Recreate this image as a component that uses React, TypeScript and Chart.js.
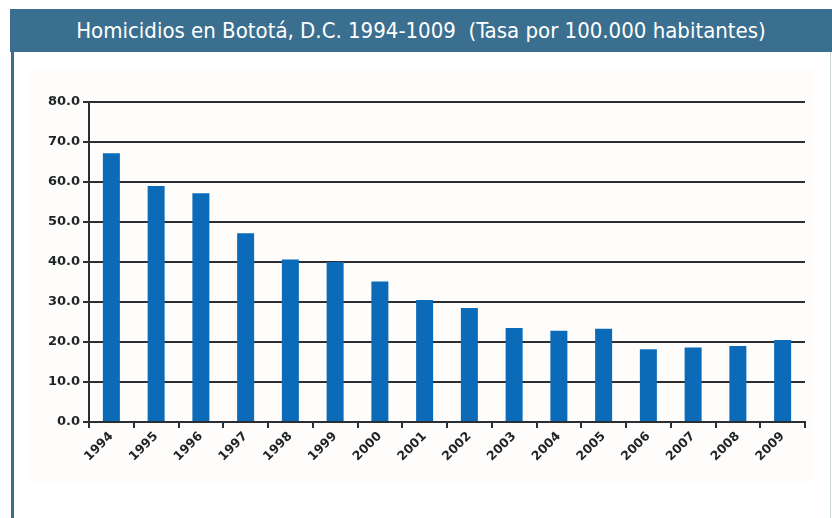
import React, { useEffect, useRef } from "react";
import { Chart, registerables } from "chart.js";

Chart.register(...registerables);

const years = ["1994","1995","1996","1997","1998","1999","2000","2001","2002","2003","2004","2005","2006","2007","2008","2009"];
const rates = [67.2, 59.0, 57.2, 47.2, 40.6, 40.0, 35.1, 30.5, 28.5, 23.5, 22.8, 23.3, 18.2, 18.6, 19.0, 20.5];
const yTicks = [0, 10, 20, 30, 40, 50, 60, 70, 80];
const title = "Homicidios en Bototá, D.C. 1994-1009  (Tasa por 100.000 habitantes)";

export default function App() {
  const ref = useRef<HTMLCanvasElement>(null);
  useEffect(() => {
    if (!ref.current) return;
    const dark = "#2b2f33";
    const chart = new Chart(ref.current, {
      type: "bar",
      data: {
        labels: years,
        datasets: [{
          data: rates,
          backgroundColor: "#0b6bb8",
          borderWidth: 0,
          barPercentage: 0.38,
          categoryPercentage: 1,
        }],
      },
      options: {
        responsive: false,
        animation: false,
        layout: { padding: { top: 34, right: 9, left: 0, bottom: 0 } },
        plugins: { legend: { display: false }, tooltip: { enabled: false } },
        scales: {
          x: {
            offset: true,
            grid: { offset: true, drawOnChartArea: false, drawTicks: true, tickLength: 6, color: dark, lineWidth: 2 },
            border: { color: dark, width: 2 },
            ticks: {
              minRotation: 45, maxRotation: 45, autoSkip: false,
              color: "#1e2326", padding: 1,
              font: { family: "'DejaVu Sans', Verdana, sans-serif", size: 12.5, weight: "bold" },
            },
            afterFit: (s: any) => { s.height = 60; },
          },
          y: {
            min: 0, max: 80,
            afterBuildTicks: (s: any) => { s.ticks = yTicks.map((v) => ({ value: v })); },
            grid: { color: dark, lineWidth: 2, tickLength: 6 },
            border: { color: dark, width: 2 },
            ticks: {
              color: "#1e2326", padding: 3,
              font: { family: "'DejaVu Sans', Verdana, sans-serif", size: 13, weight: "bold" },
              callback: (v: any) => Number(v).toFixed(1),
            },
            afterFit: (s: any) => { s.width = 59; },
          },
        },
      },
    });
    return () => chart.destroy();
  }, []);

  return (
    <div style={{ position: "fixed", left: 0, top: 0, width: 832, height: 518, background: "#ffffff", overflow: "hidden" }}>
      <div style={{
        position: "absolute", left: 10, top: 9, width: 822, height: 43, background: "#3a6f8f",
        color: "#ffffff", display: "flex", alignItems: "center", justifyContent: "center",
        fontFamily: "'Liberation Sans Narrow', 'DejaVu Sans Condensed', 'Open Sans', sans-serif", fontSize: 22,
        whiteSpace: "pre",
      }}>{title}</div>
      <div style={{ position: "absolute", left: 11, top: 52, width: 3, height: 466, background: "#3a6f8f" }} />
      <div style={{ position: "absolute", left: 830, top: 52, width: 1, height: 466, background: "#c9d3da" }} />
      <div style={{ position: "absolute", left: 30, top: 68, width: 784, height: 414, background: "#fefdfc" }} />
      <canvas ref={ref} width={784} height={414} style={{ position: "absolute", left: 30, top: 68, width: 784, height: 414 }} />
    </div>
  );
}
